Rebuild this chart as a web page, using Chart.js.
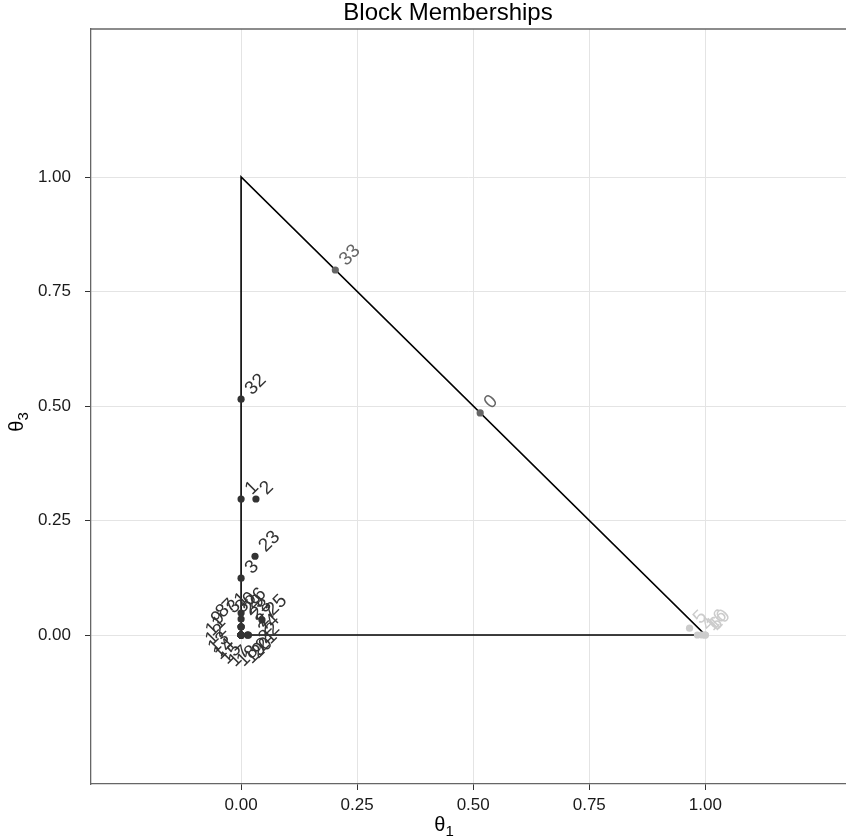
<!DOCTYPE html>
<html>
<head>
<meta charset="utf-8">
<script src="https://cdn.jsdelivr.net/npm/chart.js@4/dist/chart.umd.min.js"></script>
<style>
  html, body { margin: 0; padding: 0; background: #fff; overflow: hidden; }
  #wrap { width: 846px; height: 839px; overflow: hidden; }
</style>
</head>
<body>
<div id="wrap"><canvas id="chart" width="850" height="839"></canvas></div>
<script>
// node ids (karate club, 0-indexed) and their block memberships
const nodeIds = [0, 1, 2, 3, 4, 5, 6, 7, 8, 9, 10, 11, 12, 13, 14, 15, 16,
                 17, 18, 19, 20, 21, 22, 23, 24, 25, 26, 27, 28, 29, 30, 31, 32, 33];
const theta1 = [0.515, 0, 0.032, 0, 0.983, 0.966, 1.0, 0, 0, 0, 1.0, 0.014, 0, 0, 0, 0, 0.993,
                0.016, 0, 0, 0, 0.014, 0, 0.030, 0, 0.045, 0, 0, 0, 0, 0, 0, 0, 0.203];
const theta3 = [0.485, 0.297, 0.297, 0.124, 0, 0.015, 0, 0, 0.018, 0, 0, 0, 0, 0.035, 0, 0, 0,
                0, 0, 0.018, 0, 0, 0, 0.172, 0, 0.033, 0.048, 0, 0.018, 0, 0, 0, 0.515, 0.797];
const nodeShade = ["mid", "dark", "dark", "dark", "light", "light", "light", "dark", "dark", "dark",
                   "light", "dark", "dark", "dark", "dark", "dark", "light", "dark", "dark", "dark",
                   "dark", "dark", "dark", "dark", "dark", "dark", "dark", "dark", "dark", "dark",
                   "dark", "dark", "dark", "mid"];

// simplex edges
const simplexX = [0, 0, 1, 0];
const simplexY = [0, 1, 0, 0];

const xTickValues = [0, 0.25, 0.5, 0.75, 1];
const yTickValues = [0, 0.25, 0.5, 0.75, 1];

const shadeColors = { dark: "#333333", mid: "#666666", light: "#cccccc" };
const FONT = "'Liberation Sans', Arial, sans-serif";

const pointData = nodeIds.map((id, i) => ({ x: theta1[i], y: theta3[i] }));
const pointColors = nodeShade.map(s => shadeColors[s]);

const labelPlugin = {
    id: "nodeLabels",
    afterDatasetsDraw(chart) {
        const ctx = chart.ctx;
        const meta = chart.getDatasetMeta(0);
        const xs = chart.scales.x, ys = chart.scales.y;
        ctx.save();
        ctx.font = "19px " + FONT;
        ctx.textBaseline = "middle";

        // nodes piled up in the corner get their labels pushed out onto a ring
        const crowded = nodeIds.filter((id, i) => theta1[i] + theta3[i] < 0.04);
        const cx = xs.getPixelForValue(0.003), cy = ys.getPixelForValue(0.012);
        const ringR = 27;

        nodeIds.forEach((id, i) => {
            const el = meta.data[i];
            ctx.fillStyle = pointColors[i];
            const k = crowded.indexOf(id);
            ctx.save();
            if (k >= 0) {
                const a = Math.PI / 2 + 0.5 + (k / crowded.length) * Math.PI * 2;
                ctx.translate(cx + ringR * Math.cos(a), cy - ringR * Math.sin(a));
                ctx.rotate(-Math.PI / 4);
                ctx.textAlign = "center";
                ctx.fillText(String(id), 0, 0);
            } else {
                ctx.translate(el.x + 5, el.y - 5);
                ctx.rotate(-Math.PI / 4);
                ctx.textAlign = "left";
                ctx.fillText(String(id), 3, 0);
            }
            ctx.restore();
        });
        ctx.restore();
    }
};

const framePlugin = {
    id: "frame",
    afterDraw(chart) {
        const ctx = chart.ctx;
        const a = chart.chartArea;
        ctx.save();
        // top border (no right border, panel runs off the page)
        ctx.strokeStyle = "#666666";
        ctx.lineWidth = 1.3;
        ctx.beginPath();
        ctx.moveTo(a.left, a.top);
        ctx.lineTo(a.right, a.top);
        ctx.stroke();

        ctx.fillStyle = "#000";
        ctx.textAlign = "center";
        ctx.textBaseline = "middle";
        ctx.font = "24px " + FONT;
        ctx.fillText("Block Memberships", 448, 13);

        // axis titles with subscripts
        const drawSub = (main, sub, x, y) => {
            ctx.font = "20px " + FONT;
            const w1 = ctx.measureText(main).width;
            ctx.font = "15px " + FONT;
            const w2 = ctx.measureText(sub).width;
            const x0 = x - (w1 + w2) / 2;
            ctx.textAlign = "left";
            ctx.textBaseline = "alphabetic";
            ctx.font = "20px " + FONT;
            ctx.fillText(main, x0, y);
            ctx.font = "15px " + FONT;
            ctx.fillText(sub, x0 + w1, y + 5);
        };
        drawSub("θ", "1", 444, 831);
        ctx.save();
        ctx.translate(23, 422);
        ctx.rotate(-Math.PI / 2);
        drawSub("θ", "3", 0, 0);
        ctx.restore();
        ctx.restore();
    }
};

const tickFmt = v => Number(v).toFixed(2);

new Chart(document.getElementById("chart"), {
    type: "scatter",
    data: {
        datasets: [{
            label: "nodes",
            data: pointData,
            pointRadius: 3.6,
            pointHoverRadius: 3.6,
            pointBackgroundColor: pointColors,
            pointBorderWidth: 0,
            borderWidth: 0
        }, {
            label: "simplex",
            data: simplexX.map((x, i) => ({ x: x, y: simplexY[i] })),
            showLine: true,
            borderColor: "#000",
            borderWidth: 1.6,
            pointRadius: 0,
            fill: false
        }]
    },
    options: {
        responsive: false,
        animation: false,
        events: [],
        layout: { padding: { top: 29, right: 0, left: 0, bottom: 0 } },
        plugins: {
            legend: { display: false },
            title: { display: false },
            tooltip: { enabled: false }
        },
        scales: {
            x: {
                type: "linear",
                min: -0.3233,
                max: 1.3039,
                afterBuildTicks: s => { s.ticks = xTickValues.map(v => ({ value: v })); },
                afterFit: s => { s.height = 55; },
                grid: { color: "#e4e4e4", lineWidth: 1, tickColor: "#333", tickLength: 6 },
                border: { display: true, color: "#666666", width: 1.3 },
                ticks: {
                    callback: tickFmt,
                    color: "#1a1a1a",
                    font: { family: FONT, size: 17 },
                    padding: 5,
                    maxRotation: 0
                }
            },
            y: {
                type: "linear",
                min: -0.3253,
                max: 1.3232,
                afterBuildTicks: s => { s.ticks = yTickValues.map(v => ({ value: v })); },
                afterFit: s => { s.width = 91; },
                grid: { color: "#e4e4e4", lineWidth: 1, tickColor: "#333", tickLength: 6 },
                border: { display: true, color: "#666666", width: 1.3 },
                ticks: {
                    callback: tickFmt,
                    color: "#1a1a1a",
                    font: { family: FONT, size: 17 },
                    padding: 14
                }
            }
        }
    },
    plugins: [labelPlugin, framePlugin]
});
</script>
</body>
</html>
